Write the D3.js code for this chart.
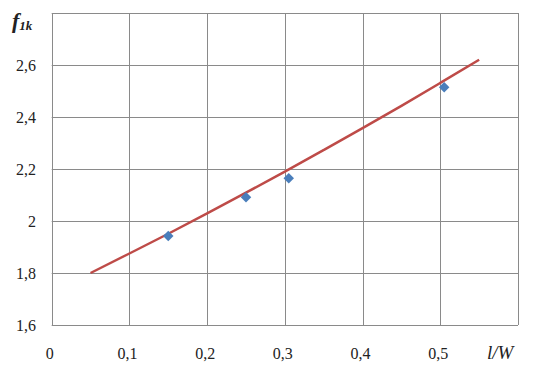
<!DOCTYPE html>
<html>
<head>
<meta charset="utf-8">
<script src="https://cdn.jsdelivr.net/npm/d3@7"></script>
<style>
  body { margin: 0; background: #fff; }
</style>
</head>
<body>
<div id="container"></div>
<script>
"use strict";

// measured points
var pointX = [0.15, 0.25, 0.305, 0.505];
var pointY = [1.942, 2.091, 2.164, 2.514];

// trend line
var lineX = [0.05, 0.1, 0.15, 0.2, 0.25, 0.3, 0.35, 0.4, 0.45, 0.5, 0.55];
var lineY = [1.80, 1.875, 1.951, 2.029, 2.109, 2.19, 2.273, 2.357, 2.443, 2.531, 2.62];

var xTicks = [0, 0.1, 0.2, 0.3, 0.4, 0.5];
var yTicks = [1.6, 1.8, 2, 2.2, 2.4, 2.6, 2.8];
var yLabels = [1.6, 1.8, 2, 2.2, 2.4, 2.6];

var width = 535, height = 380;
var serif = "Liberation Serif";
var fmt = function (v) { return String(v).replace(".", ","); };

var x = d3.scaleLinear().domain([0, 0.6]).range([51.7, 518]);
var y = d3.scaleLinear().domain([1.6, 2.8]).range([325, 13]);

var svg = d3.select("#container").append("svg")
    .attr("width", width).attr("height", height);

// grid
var grid = svg.append("g").attr("stroke", "#8a8a8a").attr("stroke-width", 1);
grid.selectAll("line.v").data(x.ticks(6).concat([0.6])).enter().append("line")
    .attr("x1", function (d) { return Math.round(x(d)) + 0.5; })
    .attr("x2", function (d) { return Math.round(x(d)) + 0.5; })
    .attr("y1", y(2.8)).attr("y2", y(1.6));
grid.selectAll("line.h").data(yTicks).enter().append("line")
    .attr("y1", function (d) { return Math.round(y(d)) + 0.5; })
    .attr("y2", function (d) { return Math.round(y(d)) + 0.5; })
    .attr("x1", x(0)).attr("x2", x(0.6));

// tick labels
svg.selectAll("text.ylab").data(yLabels).enter().append("text")
    .attr("class", "ylab")
    .attr("x", 36).attr("y", function (d) { return y(d); })
    .attr("dy", "0.35em").attr("text-anchor", "end")
    .attr("font-family", serif).attr("font-size", 16).attr("fill", "#222")
    .text(fmt);

svg.selectAll("text.xlab").data(xTicks).enter().append("text")
    .attr("class", "xlab")
    .attr("x", function (d) { return x(d) - 2; }).attr("y", 353)
    .attr("dy", "0.35em").attr("text-anchor", "middle")
    .attr("font-family", serif).attr("font-size", 16).attr("fill", "#222")
    .text(fmt);

// axis titles
svg.append("text").attr("x", 487).attr("y", 359)
    .attr("font-family", serif).attr("font-size", 19).attr("font-style", "italic")
    .attr("fill", "#222")
    .text("l/W");

var ft = svg.append("text").attr("x", 12).attr("y", 28)
    .attr("font-family", serif).attr("fill", "#222")
    .attr("font-weight", "bold").attr("font-style", "italic");
ft.append("tspan").attr("font-size", 22).text("f");
ft.append("tspan").attr("font-size", 13).attr("dy", 2).text("1k");

// trend line
var lineData = lineX.map(function (v, i) { return [v, lineY[i]]; });
var line = d3.line()
    .x(function (d) { return x(d[0]); })
    .y(function (d) { return y(d[1]); })
    .curve(d3.curveMonotoneX);
svg.append("path").datum(lineData)
    .attr("d", line)
    .attr("fill", "none")
    .attr("stroke", "#be4b48")
    .attr("stroke-width", 2.5);

// markers
var pts = pointX.map(function (v, i) { return [v, pointY[i]]; });
svg.selectAll("path.pt").data(pts).enter().append("path")
    .attr("class", "pt")
    .attr("d", d3.symbol().type(d3.symbolDiamond2).size(70))
    .attr("transform", function (d) { return "translate(" + [x(d[0]), y(d[1])] + ")"; })
    .attr("fill", "#4a7ebb");
</script>
</body>
</html>
